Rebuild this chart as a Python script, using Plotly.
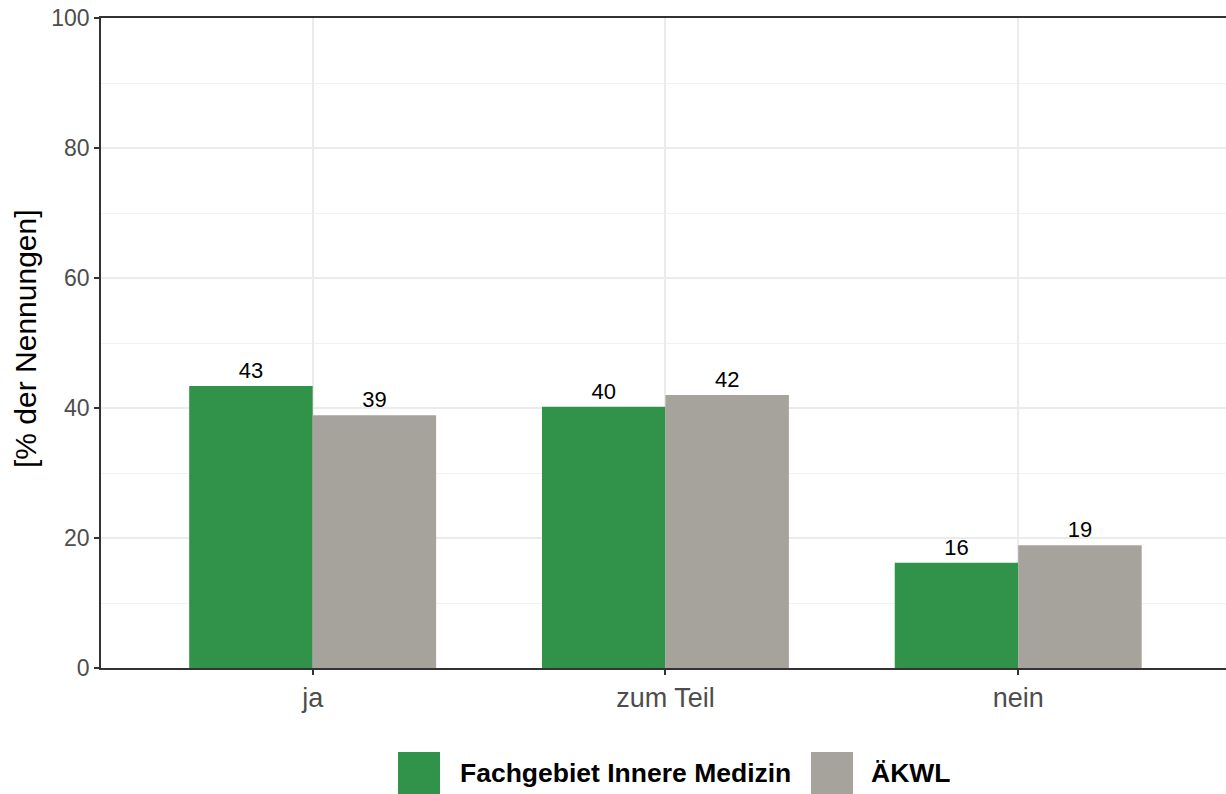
import plotly.graph_objects as go

# ---- data ----
categories = ["ja", "zum Teil", "nein"]
series_names = ["Fachgebiet Innere Medizin", "ÄKWL"]
values_innere = [43.4, 40.2, 16.2]
values_aekwl = [38.9, 42.0, 18.9]
y_ticks = [0, 20, 40, 60, 80, 100]
y_title = "[% der Nennungen]"

colors = ["#319249", "#A6A39C"]
FONT = "Liberation Sans, Arial, sans-serif"

PAGE_W, PAGE_H = 1226, 794
L, R, T, B = 101, 1226, 18, 668   # plot area in page pixels

fig = go.Figure()
for name, vals, col in zip(series_names, [values_innere, values_aekwl], colors):
    fig.add_trace(go.Bar(
        name=name, x=categories, y=vals,
        marker=dict(color=col, line=dict(width=0)),
        text=[f"{round(v)}" for v in vals],
        textposition="outside",
        textfont=dict(family=FONT, size=22, color="#000000"),
        cliponaxis=False,
        showlegend=False,
    ))

def px(xp):
    return (xp - L) / (R - L)
def py(yp):
    return (B - yp) / (B - T)

# manual legend (large keys like ggplot)
legend_items = [(398, 440, 458), (811, 853, 869)]
for (x0, x1, tx), name, col in zip(legend_items, series_names, colors):
    fig.add_shape(type="rect", xref="paper", yref="paper",
                  x0=px(x0), x1=px(x1), y0=py(752), y1=py(796),
                  fillcolor=col, line=dict(width=0), layer="above")
    fig.add_annotation(xref="paper", yref="paper", x=px(tx), y=py(773),
                       text=f"<b>{name}</b>", showarrow=False,
                       xanchor="left", yanchor="middle",
                       font=dict(family=FONT, size=26.5, color="#000000"))

# y axis title as rotated annotation
fig.add_annotation(xref="paper", yref="paper", x=px(25), y=py(339),
                   text=y_title, showarrow=False, textangle=-90,
                   xanchor="center", yanchor="middle",
                   font=dict(family=FONT, size=30, color="#000000"))

fig.update_layout(
    width=PAGE_W, height=PAGE_H,
    margin=dict(l=L, r=0, t=T, b=PAGE_H - B, pad=0),
    paper_bgcolor="white", plot_bgcolor="white",
    barmode="group", bargap=0.3, bargroupgap=0,
    font=dict(family=FONT),
)
fig.update_xaxes(
    range=[-0.6, 2.589], automargin=False,
    showline=True, linecolor="#333333", linewidth=1.5, mirror=True,
    showgrid=True, gridcolor="#EBEBEB", gridwidth=1.5,
    ticks="outside", ticklen=5, tickwidth=1.5, tickcolor="#333333",
    tickfont=dict(family=FONT, size=27, color="#4D4D4D"),
    zeroline=False,
)
fig.update_yaxes(
    range=[0, 100], tickvals=y_ticks, automargin=False,
    ticklabeloverflow="allow",
    showline=True, linecolor="#333333", linewidth=1.5,
    showgrid=True, gridcolor="#EBEBEB", gridwidth=1.5,
    minor=dict(dtick=10, showgrid=True, gridcolor="#F2F2F2", gridwidth=1),
    ticks="outside", ticklen=5, tickwidth=1.5, tickcolor="#333333",
    tickfont=dict(family=FONT, size=23, color="#4D4D4D"),
    zeroline=False,
)

fig.write_html("out.html",
               config={"displayModeBar": False},
               post_script="document.body.style.margin='0px';document.body.style.overflow='hidden';")
